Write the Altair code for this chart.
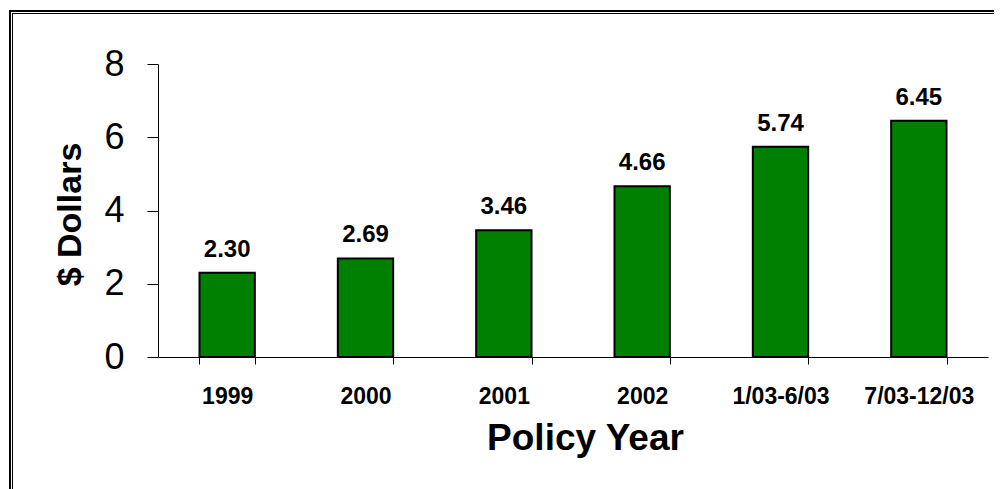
import altair as alt
import pandas as pd

categories = ["1999", "2000", "2001", "2002", "1/03-6/03", "7/03-12/03"]
values = [2.30, 2.69, 3.46, 4.66, 5.74, 6.45]

df = pd.DataFrame({"year": categories, "value": values})

FONT = "Liberation Sans"

x_enc = alt.X(
    "year:N",
    sort=categories,
    scale=alt.Scale(paddingInner=0.6, paddingOuter=0.3),
    axis=alt.Axis(
        title="Policy Year",
        labelAngle=0,
        labelFont=FONT,
        labelFontSize=23,
        labelFontWeight="bold",
        labelColor="black",
        labelPadding=21,
        tickBand="extent",
        tickSize=7,
        tickColor="black",
        domainColor="black",
        titleFont=FONT,
        titleFontSize=37,
        titleFontWeight="bold",
        titleColor="black",
        titleX=427,
        titleY=92,
        titleBaseline="alphabetic",
        titleAlign="center",
        grid=False,
    ),
)

y_enc = alt.Y(
    "value:Q",
    scale=alt.Scale(domain=[0, 8]),
    axis=alt.Axis(
        title="$ Dollars",
        values=[0, 2, 4, 6, 8],
        labelFont=FONT,
        labelFontSize=36,
        labelColor="black",
        labelPadding=23,
        tickSize=11,
        tickColor="black",
        domainColor="black",
        titleFont=FONT,
        titleFontSize=34,
        titleFontWeight="bold",
        titleColor="black",
        titleX=-78,
        titleY=150,
        titleBaseline="alphabetic",
        titleAlign="center",
        titleAngle=270,
        grid=False,
    ),
)

base = alt.Chart(df)

bars = base.mark_bar(color="#008000", stroke="black", strokeWidth=2).encode(x=x_enc, y=y_enc)

labels = base.mark_text(
    dy=-16,
    baseline="alphabetic",
    font=FONT,
    fontSize=24,
    fontWeight="bold",
    color="black",
).encode(x=alt.X("year:N", sort=categories), y="value:Q", text=alt.Text("value:Q", format=".2f"))

# decorative double frame (left and top edges), drawn as thin filled strips
frame = alt.Chart(pd.DataFrame({"k": [0]}))
outer_left = frame.mark_rect(color="black", strokeWidth=0).encode(
    x=alt.value(-149), x2=alt.value(-147), y=alt.value(-54), y2=alt.value(425)
)
outer_top = frame.mark_rect(color="black", strokeWidth=0).encode(
    x=alt.value(-149), x2=alt.value(836), y=alt.value(-54), y2=alt.value(-52)
)
inner_left = frame.mark_rect(color="black", strokeWidth=0).encode(
    x=alt.value(-146), x2=alt.value(-145), y=alt.value(-51), y2=alt.value(425)
)
inner_top = frame.mark_rect(color="black", strokeWidth=0).encode(
    x=alt.value(-146), x2=alt.value(836), y=alt.value(-51), y2=alt.value(-50)
)

chart = (
    alt.layer(bars, labels, outer_left, outer_top, inner_left, inner_top)
    .properties(
        width=830,
        height=293,
        autosize=alt.AutoSizeParams(type="none"),
        padding={"left": 158, "top": 64, "right": 14, "bottom": 132},
        background="white",
    )
    .configure_view(stroke=None)
)

chart.save("out.html", embed_options={"renderer": "svg", "actions": False})
